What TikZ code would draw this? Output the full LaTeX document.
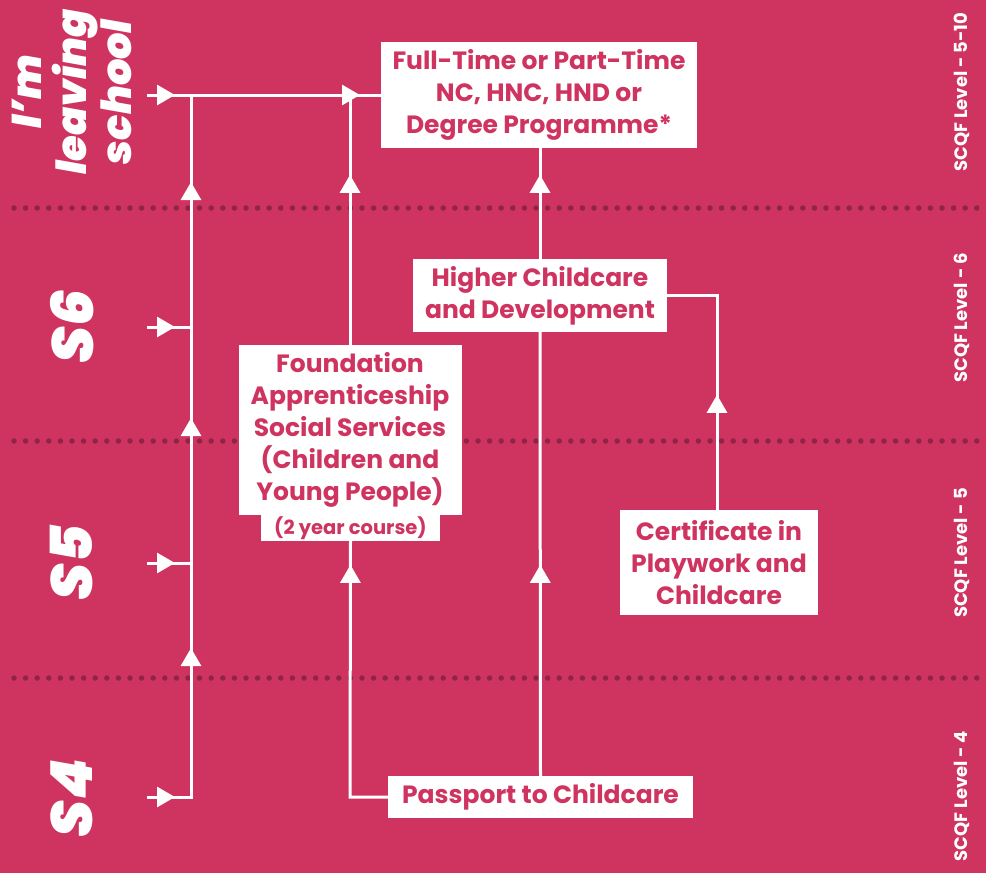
\documentclass[tikz,border=0pt]{standalone}
\usepackage{fontspec}
\setmainfont{Poppins}
\newfontfamily\heavyfont{Poppins Black Italic}
\usetikzlibrary{arrows.meta,decorations.markings}
\definecolor{bg}{HTML}{CF3360}
\definecolor{dotc}{HTML}{8E2447}
\definecolor{txt}{HTML}{CF3360}
\tikzset{
  T/.tip={Triangle[width=20pt,length=18pt]},
  box/.style={fill=white,text=txt,font=\bfseries\fontsize{25}{32}\selectfont,align=center,inner sep=0pt,anchor=center},
  conn/.style={draw=white,line width=3pt,line join=miter},
  marks/.style={postaction={decorate},decoration={markings,#1}},
  dotline/.style={draw=dotc,line width=5.5pt,line cap=round,dash pattern=on 0pt off 11.6pt},
  biglabel/.style={text=white,rotate=90,font=\heavyfont\fontsize{#1}{#1}\selectfont,align=center,inner sep=0pt},
  scqf/.style={text=white,rotate=90,font=\bfseries\fontsize{18}{18}\selectfont,inner sep=0pt}
}
\begin{document}
\begin{tikzpicture}[x=1pt,y=-1pt]
\fill[bg] (0,0) rectangle (986,873);
\useasboundingbox (0,0) rectangle (986,873);
% dotted level lines
\coordinate (d1a) at (14,208); \coordinate (d1b) at (982,208);
\coordinate (d2a) at (14,441); \coordinate (d2b) at (982,441);
\coordinate (d3a) at (14,678); \coordinate (d3b) at (982,678);
\draw[dotline] (d1a) -- (d1b);
\draw[dotline] (d2a) -- (d2b);
\draw[dotline] (d3a) -- (d3b);
% left labels
\node[biglabel=44,font=\heavyfont\fontsize{41.5}{45}\selectfont] (leave) at (72,92) {I’m\\leaving\\school};
\node[biglabel=58] (s6) at (72,327) {S6};
\node[biglabel=58] (s5) at (72,563) {S5};
\node[biglabel=58] (s4) at (72,798) {S4};
% right labels
\node[scqf] (l510) at (962,92) {SCQF Level - 5-10};
\node[scqf] (l6) at (962,318) {SCQF Level - 6};
\node[scqf] (l5) at (962,553) {SCQF Level - 5};
\node[scqf] (l4) at (962,796) {SCQF Level - 4};
% boxes
\node[box,minimum width=316pt,minimum height=106pt] (ft) at (539,95) {Full-Time or Part-Time\\NC, HNC, HND or\\Degree Programme*};
\node[box,minimum width=254pt,minimum height=73pt] (hcd) at (540,295.5) {Higher Childcare\\and Development};
\node[box,minimum width=223pt,minimum height=170pt] (fa) at (350,430) {Foundation\\Apprenticeship\\Social Services\\(Children and\\Young People)};
\node[box,minimum width=179pt,minimum height=26pt,font=\bfseries\fontsize{19.5}{20}\selectfont,anchor=north] (fasub) at (350.5,514.5) {(2 year course)};
\node[box,minimum width=198pt,minimum height=105pt] (cert) at (719,562.5) {Certificate in\\Playwork and\\Childcare};
\node[box,minimum width=305pt,minimum height=42pt] (pp) at (540.5,797) {Passport to Childcare};
% entry stubs
\coordinate (e0) at (147,95);
\coordinate (e6) at (147,327);
\coordinate (e5) at (147,563);
\coordinate (e4) at (147,797);
\coordinate (j4) at (191,797);
\coordinate (jtop) at (191,95);
\coordinate (j350) at (350,95);
\coordinate (c350) at (350,797);
% connectors
\draw[conn,marks={mark=at position 28pt with {\arrow{T}},mark=at position 193pt with {\arrow{T}},mark=at position 423pt with {\arrow{T}},mark=at position 659pt with {\arrow{T}}}] (e4) -- (j4) -- (jtop);
\draw[conn,marks={mark=at position 28pt with {\arrow{T}},mark=at position 213pt with {\arrow{T}}}] (e0) -- (ft.west);
\draw[conn,marks={mark=at position 28pt with {\arrow{T}}}] (e6) -- (e6 -| j4);
\draw[conn,marks={mark=at position 28pt with {\arrow{T}}}] (e5) -- (e5 -| j4);
\draw[conn,marks={mark=at position 170pt with {\arrow{T}}}] (fa.north) -- (j350);
\draw[conn,marks={mark=at position 84pt with {\arrow{T}}}] (hcd.north) -- (hcd.north |- ft.south);
\draw[conn,marks={mark=at position 270pt with {\arrow{T}}}] (pp.west) -- (c350) -- (fasub.south);
\draw[conn,marks={mark=at position 211pt with {\arrow{T}}}] (pp.north) -- (hcd.south);
\draw[conn,marks={mark=at position 115pt with {\arrow{T}}}] ([xshift=-2pt]cert.north) |- (hcd.east);
\end{tikzpicture}
\end{document}
